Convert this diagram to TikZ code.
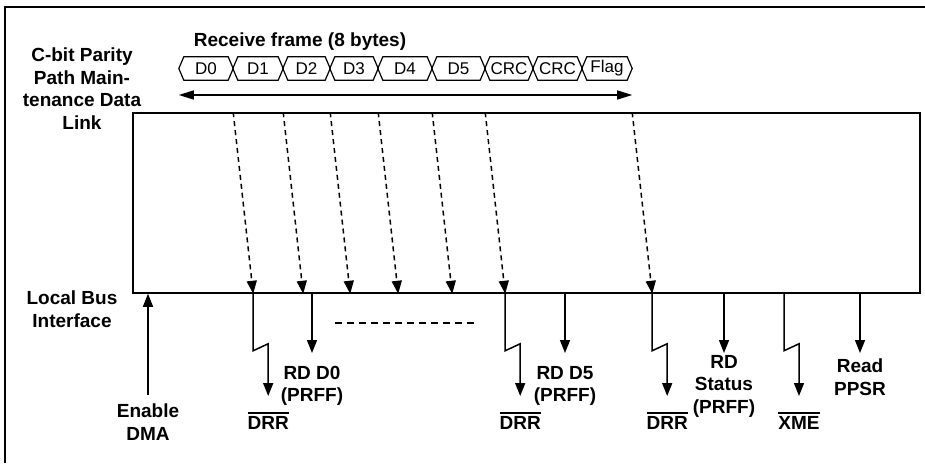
\documentclass[tikz,border=0pt]{standalone}
\usepackage{fontspec}
\setmainfont{Liberation Sans}
\usetikzlibrary{arrows.meta,positioning}

% overlined (active-low) signal name
\newcommand{\ovl}[1]{\vbox{\hrule height 1.8pt\kern 2pt\hbox{#1}}}

\begin{document}
\begin{tikzpicture}[
    x=1pt, y=-1pt,
    lbl/.style={font=\bfseries\fontsize{19}{22.5}\selectfont, align=center, inner sep=0pt},
    seg/.style={font=\fontsize{17}{19}\selectfont, minimum height=23pt, inner sep=0pt},
    hexline/.style={line width=1.2pt, line join=miter},
    sarr/.style={-{Triangle[length=13pt,width=10pt]}, line width=1.5pt},
    darr/.style={sarr, dash pattern=on 5pt off 4pt},
    zarr/.style={sarr, shorten >=16pt},
    farr/.style={{Triangle[length=15pt,width=9pt]}-{Triangle[length=15pt,width=9pt]}, line width=1.5pt},
]

\useasboundingbox (0,0) rectangle (925,463);

%% ── Outer frame (top and left edge) ──────────────────────────────────────────
\draw[line width=2.4pt] (5,463) -- (5,7) -- (925,7);

%% ── Receiver block ───────────────────────────────────────────────────────────
\node[draw, line width=1.5pt, minimum width=787pt, minimum height=180pt,
      inner sep=0pt] (ic) at (526.5,203) {};

% Side labels
\node[lbl, anchor=north] (dl) at (82,48)  {C-bit Parity\\Path Main-\\tenance Data\\Link};
\node[lbl, anchor=north] (lb) at (72,291) {Local Bus\\Interface};

%% ── Receive frame (top row) ──────────────────────────────────────────────────
\node[lbl, anchor=base] (ttl) at (300,46) {Receive frame (8 bytes)};

\foreach \name/\txt/\xa/\xb in {s0/D0/179/233, s1/D1/233/283, s2/D2/283/330,
                               s3/D3/330/378, s4/D4/378/432, s5/D5/432/485,
                               s6/CRC/485/533, s7/CRC/533/582, s8/Flag/582/632} {
  \node[seg, minimum width={(\xb-\xa)*1pt}] (\name) at ({(\xa+\xb)/2},68.5) {\txt};
  \draw[hexline] (\name.west) -- ([xshift=5pt]\name.north west)
                 -- ([xshift=-5pt]\name.north east) -- (\name.east)
                 -- ([xshift=-5pt]\name.south east)
                 -- ([xshift=5pt]\name.south west) -- cycle;
}

\draw[farr] ([yshift=-26.5pt]s0.west) -- ([yshift=-26.5pt]s8.east);

% Bytes written into the FIFO
\foreach \s/\a in {s0/a0, s1/a1, s2/a2, s3/a3, s4/a4, s5/a5, s8/a8} {
  \coordinate (\a) at ([xshift=20pt]\s.east |- ic.south);
  \draw[darr] (\s.east |- ic.north) -- (\a);
}

%% ── Local bus side (bottom row) ──────────────────────────────────────────────
\coordinate (bx) at (ic.south -| 784,0);

% Interrupt outputs
\node[lbl, anchor=north] (drr0) at ([xshift=15pt]a0 |- 0,412) {\ovl{DRR}};
\node[lbl, anchor=north] (drr5) at ([xshift=15pt]a5 |- 0,412) {\ovl{DRR}};
\node[lbl, anchor=north] (drr8) at ([xshift=15pt]a8 |- 0,412) {\ovl{DRR}};
\node[lbl, anchor=north] (xme)  at ([xshift=15pt]bx |- 0,412) {\ovl{XME}};

\foreach \p/\n in {a0/drr0, a5/drr5, a8/drr8, bx/xme}
  \draw[zarr] (\p) -- ++(0,57) -- ++(15,-7) -- (\n.north);

% Host accesses
\node[lbl, anchor=north] (dma) at (148,404) {Enable\\DMA};
\node[lbl, anchor=north] (rd0) at (312,366) {RD D0\\(PRFF)};
\node[lbl, anchor=north] (rd5) at (565,366) {RD D5\\(PRFF)};
\node[lbl, anchor=north] (rds) at (724,355) {RD\\Status\\(PRFF)};
\node[lbl, anchor=north] (rps) at (860,359) {Read\\PPSR};

\draw[sarr, shorten <=9pt]  (dma.north) -- (dma.north |- ic.south);
\draw[sarr, shorten >=13pt] (rd0.north |- ic.south) -- (rd0.north);
\draw[sarr, shorten >=13pt] (rd5.north |- ic.south) -- (rd5.north);
\draw[sarr, shorten >=2pt]  (rds.north |- ic.south) -- (rds.north);
\draw[sarr, shorten >=6pt]  (rps.north |- ic.south) -- (rps.north);

% reads D1 .. D4 omitted
\draw[line width=1.2pt, dash pattern=on 7pt off 5pt] (335,323) -- (478,323);

\end{tikzpicture}
\end{document}
